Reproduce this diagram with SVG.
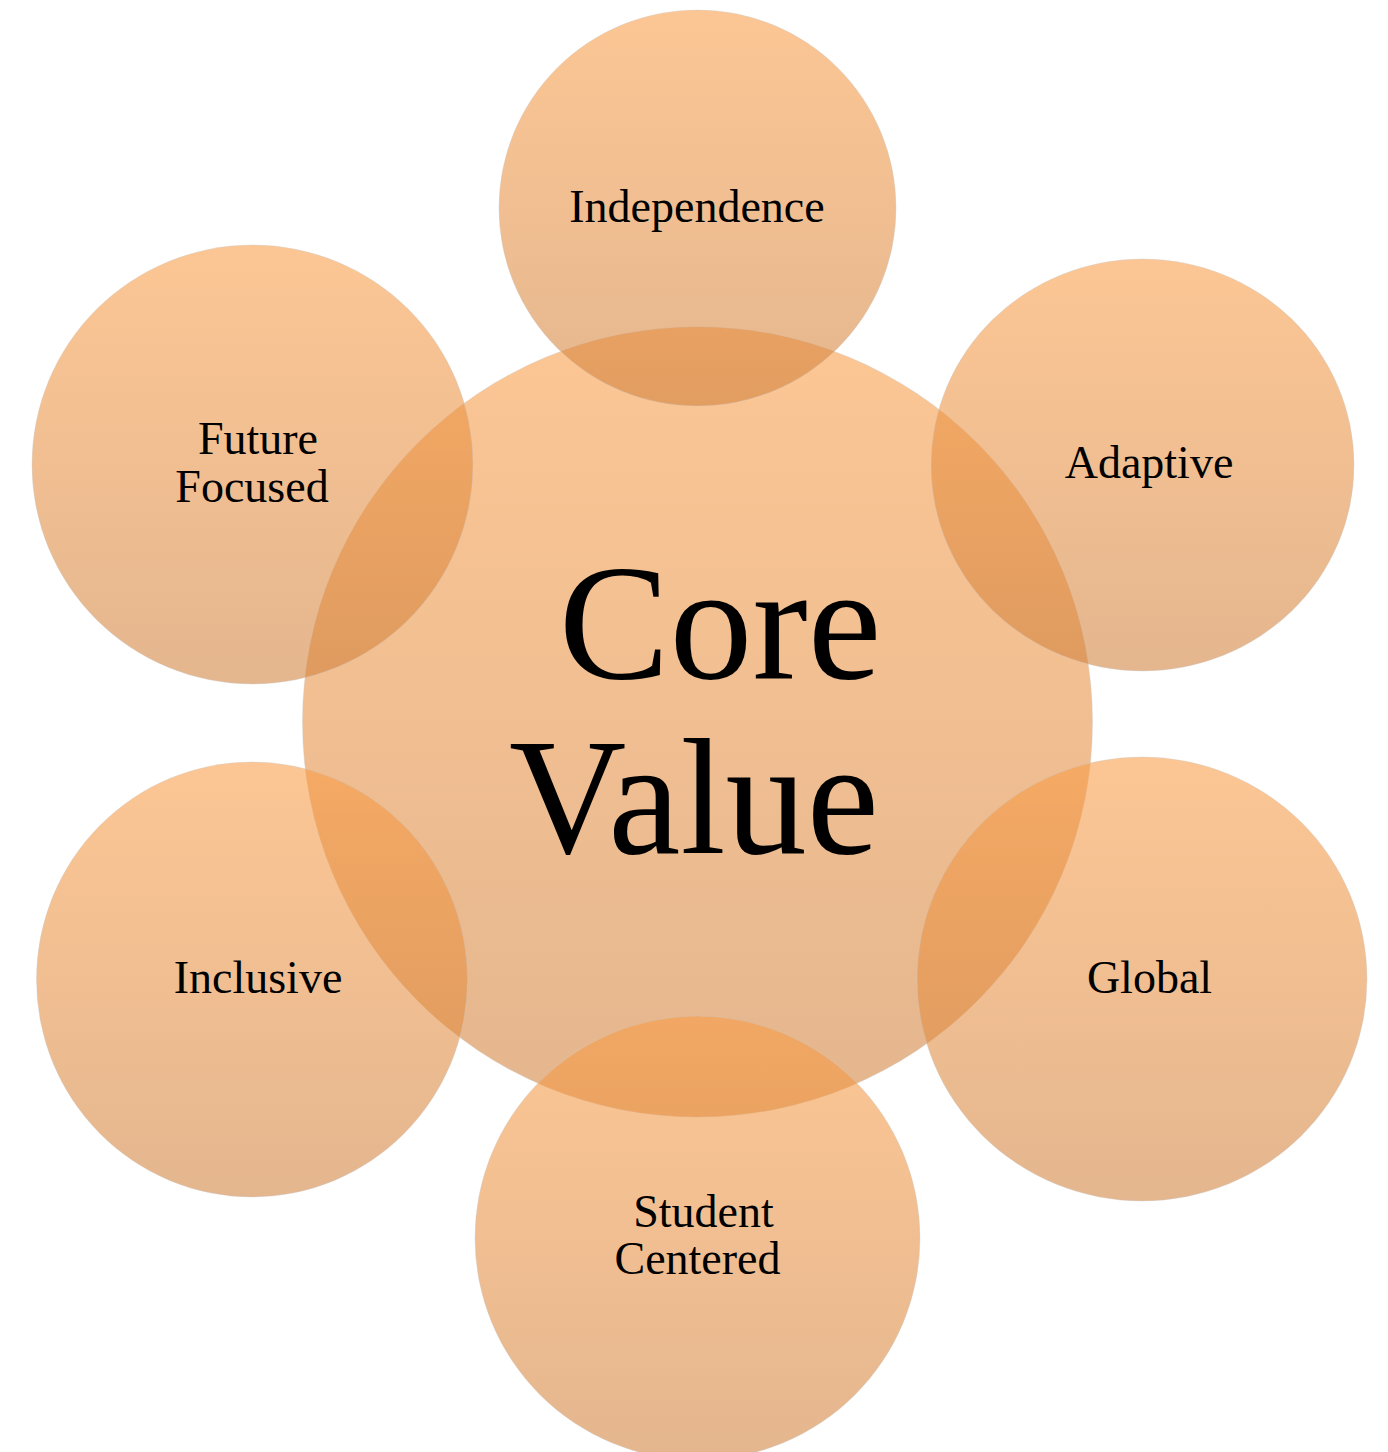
<svg xmlns="http://www.w3.org/2000/svg" width="1388" height="1452" viewBox="0 0 1388 1452">
  <defs>
    <linearGradient id="orangeGrad" x1="0" y1="0" x2="0" y2="1">
      <stop offset="0" stop-color="rgb(250,155,67)"/>
      <stop offset="1" stop-color="rgb(208,127,57)"/>
    </linearGradient>
  </defs>
  <style>
    .bubble { fill: url(#orangeGrad); fill-opacity: 0.57; stroke: #c8c8c8; stroke-opacity: 0.35; stroke-width: 1; }
    .label { font-family: "Liberation Serif", "Times New Roman", serif; font-size: 46px; fill: #000000; text-anchor: middle; }
    .core { font-family: "Liberation Serif", "Times New Roman", serif; font-size: 166px; fill: #000000; text-anchor: middle; }
  </style>
  <rect x="0" y="0" width="1388" height="1452" fill="#ffffff"/>

  <g id="node-core">
    <ellipse class="bubble" cx="697.5" cy="722" rx="395" ry="395"/>
    <text class="core" x="720" y="678">Core</text>
    <text class="core" x="694" y="853" textLength="370" lengthAdjust="spacingAndGlyphs">Value</text>
  </g>

  <g id="node-independence">
    <ellipse class="bubble" cx="697.5" cy="208" rx="198.5" ry="198"/>
    <text class="label" x="697" y="222">Independence</text>
  </g>

  <g id="node-adaptive">
    <ellipse class="bubble" cx="1142.5" cy="465" rx="211.5" ry="206"/>
    <text class="label" x="1149" y="478">Adaptive</text>
  </g>

  <g id="node-global">
    <ellipse class="bubble" cx="1142" cy="979" rx="225" ry="222"/>
    <text class="label" x="1149.5" y="993">Global</text>
  </g>

  <g id="node-student-centered">
    <ellipse class="bubble" cx="697.5" cy="1238" rx="222.5" ry="222"/>
    <text class="label" x="703.5" y="1227">Student</text>
    <text class="label" x="697.5" y="1274">Centered</text>
  </g>

  <g id="node-inclusive">
    <ellipse class="bubble" cx="252" cy="979.5" rx="215.5" ry="217.5"/>
    <text class="label" x="258" y="993">Inclusive</text>
  </g>

  <g id="node-future-focused">
    <ellipse class="bubble" cx="252.5" cy="464.5" rx="220.5" ry="219.5"/>
    <text class="label" x="258" y="454">Future</text>
    <text class="label" x="252" y="502">Focused</text>
  </g>
</svg>
